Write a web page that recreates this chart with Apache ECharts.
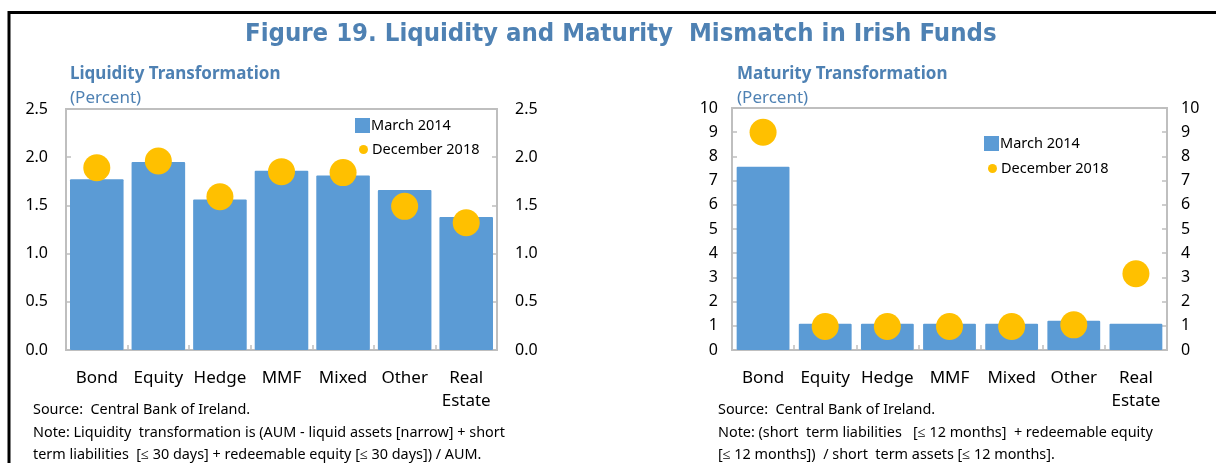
<!DOCTYPE html>
<html>
<head>
<meta charset="utf-8">
<script src="https://cdn.jsdelivr.net/npm/echarts@6/dist/echarts.min.js"></script>
<style>
  html, body { margin: 0; padding: 0; background: #fff; }
  #chart { width: 1216px; height: 463px; }
</style>
</head>
<body>
<div id="chart"></div>
<script>
var categories = ['Bond', 'Equity', 'Hedge', 'MMF', 'Mixed', 'Other', 'Real\nEstate'];

// liquidity transformation
var liqMarch2014 = [1.77, 1.95, 1.56, 1.86, 1.81, 1.66, 1.38];
var liqDec2018 = [1.89, 1.96, 1.59, 1.85, 1.84, 1.49, 1.32];

// maturity transformation
var matMarch2014 = [7.57, 1.08, 1.08, 1.08, 1.08, 1.21, 1.08];
var matDec2018 = [9.0, 0.97, 0.97, 0.97, 0.97, 1.04, 3.15];

var blue = '#5b9bd5';
var gold = '#ffc000';
var head = '#4e81b3';
var font = 'Noto Sans';

var chart = echarts.init(document.getElementById('chart'));

function yAxis(idx, pos, max, step, digits) {
    return {
        type: 'value', gridIndex: idx, position: pos,
        min: 0, max: max, interval: step,
        axisLine: { show: true, lineStyle: { color: '#bfbfbf', width: 2 } },
        axisTick: { show: true, inside: true, length: 5, lineStyle: { color: '#bfbfbf', width: 1.5 } },
        splitLine: { show: false },
        axisLabel: {
            color: '#000', fontSize: 16, fontFamily: font,
            margin: idx == 0 ? 18 : 14,
            formatter: function (v) { return v.toFixed(digits); }
        }
    };
}

function xAxis(idx) {
    return {
        type: 'category', gridIndex: idx, data: categories,
        axisLine: { show: true, lineStyle: { color: '#bfbfbf', width: 2 } },
        axisTick: { show: true, inside: true, length: 5, lineStyle: { color: '#bfbfbf', width: 1.5 } },
        axisLabel: { color: '#000', fontSize: 17, fontFamily: font, margin: 17, lineHeight: 23, interval: 0 }
    };
}

var noteStyle = { fontSize: 14.4, fontWeight: 'normal', color: '#000', fontFamily: font, lineHeight: 22.5 };
var legText = { fontSize: 14.5, color: '#000', fontFamily: font };

var option = {
    animation: false,
    backgroundColor: '#fff',
    title: [
        { text: 'Figure 19. Liquidity and Maturity  Mismatch in Irish Funds', left: 240, top: 16,
          textStyle: { fontSize: 25.5, fontWeight: 'bold', color: head, fontFamily: "'DejaVu Sans Condensed', Roboto" } },
        { text: 'Liquidity Transformation', left: 65, top: 61,
          textStyle: { fontSize: 17, fontWeight: 'bold', color: head, fontFamily: font } },
        { text: '(Percent)', left: 65, top: 85,
          textStyle: { fontSize: 17, fontWeight: 'normal', color: head, fontFamily: font } },
        { text: 'Maturity Transformation', left: 732, top: 61,
          textStyle: { fontSize: 17, fontWeight: 'bold', color: head, fontFamily: font } },
        { text: '(Percent)', left: 732, top: 85,
          textStyle: { fontSize: 17, fontWeight: 'normal', color: head, fontFamily: font } },
        { text: 'Source:  Central Bank of Ireland.\nNote: Liquidity  transformation is (AUM - liquid assets [narrow] + short\nterm liabilities  [\u2264 30 days] + redeemable equity [\u2264 30 days]) / AUM.',
          left: 28, top: 394, textStyle: noteStyle },
        { text: 'Source:  Central Bank of Ireland.\nNote: (short  term liabilities   [\u2264 12 months]  + redeemable equity\n[\u2264 12 months])  / short  term assets [\u2264 12 months].',
          left: 713, top: 394, textStyle: noteStyle }
    ],
    graphic: [
        { type: 'polyline', shape: { points: [[9, 463], [9, 12.5], [1216, 12.5]] },
          style: { stroke: '#000', lineWidth: 3, fill: null } }
    ],
    legend: [
        { left: 350, top: 113, orient: 'vertical', itemWidth: 15, itemHeight: 15,
          data: [{ name: 'March 2014', icon: 'rect' }],
          textStyle: Object.assign({ padding: [0, 0, 0, -4] }, legText) },
        { left: 354, top: 137, orient: 'vertical', itemWidth: 9, itemHeight: 9,
          data: [{ name: 'December 2018', icon: 'circle' }],
          textStyle: Object.assign({ padding: [0, 0, 0, -1] }, legText) },
        { left: 979, top: 131, orient: 'vertical', itemWidth: 15, itemHeight: 15,
          data: [{ name: 'March 2014', icon: 'rect' }],
          textStyle: Object.assign({ padding: [0, 0, 0, -4] }, legText) },
        { left: 983, top: 156, orient: 'vertical', itemWidth: 9, itemHeight: 9,
          data: [{ name: 'December 2018', icon: 'circle' }],
          textStyle: Object.assign({ padding: [0, 0, 0, -1] }, legText) }
    ],
    grid: [
        { left: 66, top: 109, width: 431, height: 241, show: true, borderColor: '#bfbfbf', borderWidth: 2 },
        { left: 732, top: 108, width: 435, height: 242, show: true, borderColor: '#bfbfbf', borderWidth: 2 }
    ],
    xAxis: [xAxis(0), xAxis(1)],
    yAxis: [
        yAxis(0, 'left', 2.5, 0.5, 1), yAxis(0, 'right', 2.5, 0.5, 1),
        yAxis(1, 'left', 10, 1, 0), yAxis(1, 'right', 10, 1, 0)
    ],
    series: [
        { name: 'March 2014', type: 'bar', xAxisIndex: 0, yAxisIndex: 0, data: liqMarch2014,
          barCategoryGap: '13%', itemStyle: { color: blue, borderRadius: 1 } },
        { name: 'December 2018', type: 'scatter', xAxisIndex: 0, yAxisIndex: 0, data: liqDec2018,
          symbolSize: 27, itemStyle: { color: gold, opacity: 1 }, z: 3 },
        { name: 'March 2014', type: 'bar', xAxisIndex: 1, yAxisIndex: 2, data: matMarch2014,
          barCategoryGap: '15%', itemStyle: { color: blue, borderRadius: 1 } },
        { name: 'December 2018', type: 'scatter', xAxisIndex: 1, yAxisIndex: 2, data: matDec2018,
          symbolSize: 27, itemStyle: { color: gold, opacity: 1 }, z: 3 }
    ]
};

chart.setOption(option);
</script>
</body>
</html>
